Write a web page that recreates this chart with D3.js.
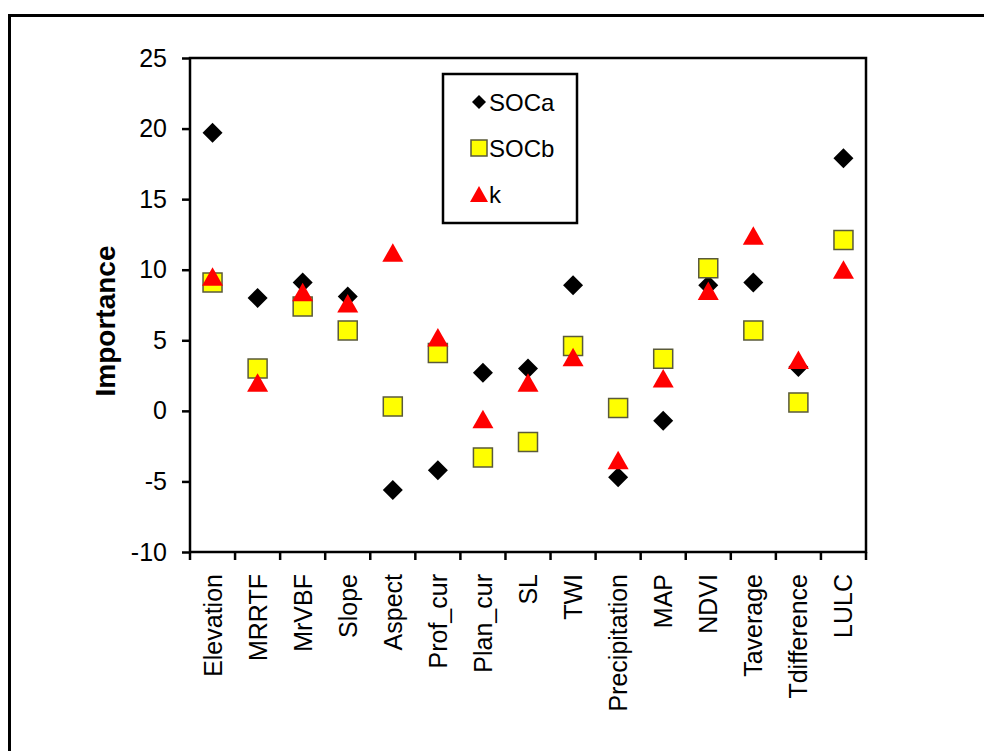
<!DOCTYPE html>
<html>
<head>
<meta charset="utf-8">
<script src="https://cdn.jsdelivr.net/npm/d3@7"></script>
<style>
  html, body { margin: 0; padding: 0; background: #fff; }
  svg { display: block; font-family: "Liberation Sans", Arial, sans-serif; }
</style>
</head>
<body>
<svg id="chart" width="984" height="751"></svg>
<script>
(function () {
  'use strict';

  /* ---------- Data ---------- */
  const categories = ['Elevation', 'MRRTF', 'MrVBF', 'Slope', 'Aspect', 'Prof_cur', 'Plan_cur',
    'SL', 'TWI', 'Precipitation', 'MAP', 'NDVI', 'Taverage', 'Tdifference', 'LULC'];
  const socA = [19.7, 8.0, 9.1, 8.1, -5.6, -4.2, 2.7, 3.0, 8.9, -4.7, -0.7, 8.9, 9.1, 3.1, 17.9];
  const socB = [9.1, 3.0, 7.4, 5.7, 0.3, 4.1, -3.3, -2.2, 4.6, 0.2, 3.7, 10.1, 5.7, 0.6, 12.1];
  const kVal = [9.5, 2.0, 8.4, 7.6, 11.2, 5.2, -0.6, 2.0, 3.8, -3.5, 2.3, 8.5, 12.4, 3.6, 10.0];
  const yTicks = [-10, -5, 0, 5, 10, 15, 20, 25];

  const series = [
    { name: 'SOCa', values: socA, shape: 'diamond' },
    { name: 'SOCb', values: socB, shape: 'square' },
    { name: 'k',    values: kVal, shape: 'triangle' }
  ];

  /* ---------- Layout ---------- */
  const svg = d3.select('#chart');
  const plot = { left: 190, right: 866, top: 58, bottom: 552 };

  const x = d3.scaleBand().domain(categories).range([plot.left, plot.right]).padding(0);
  const y = d3.scaleLinear().domain([-10, 25]).range([plot.bottom, plot.top]);

  // Outer frame
  svg.append('rect')
    .attr('x', 9.5).attr('y', 15.5)
    .attr('width', 1000).attr('height', 800)
    .attr('fill', 'none').attr('stroke', '#000').attr('stroke-width', 3);

  // Plot box
  svg.append('rect')
    .attr('x', plot.left).attr('y', plot.top)
    .attr('width', plot.right - plot.left).attr('height', plot.bottom - plot.top)
    .attr('fill', 'none').attr('stroke', '#000').attr('stroke-width', 2.5);

  /* ---------- Y axis ---------- */
  const yAxis = svg.append('g')
    .attr('transform', `translate(${plot.left},0)`)
    .call(d3.axisLeft(y).tickValues(yTicks).tickFormat(d => String(d)).tickSize(8).tickPadding(15))
    .call(g => g.select('.domain').remove());
  yAxis.selectAll('line').attr('stroke', '#000').attr('stroke-width', 2.5);
  yAxis.selectAll('text')
    .attr('font-family', '"Liberation Sans", Arial, sans-serif')
    .attr('font-size', 25).attr('fill', '#000');

  svg.append('text')
    .attr('transform', `translate(115,321) rotate(-90)`)
    .attr('text-anchor', 'middle')
    .attr('font-size', 28).attr('font-weight', 700)
    .text('Importance');

  /* ---------- X axis ---------- */
  const boundaries = categories.map(c => x(c)).concat([plot.right]);
  svg.append('g').selectAll('line')
    .data(boundaries)
    .join('line')
    .attr('x1', d => d).attr('x2', d => d)
    .attr('y1', plot.bottom).attr('y2', plot.bottom + 8)
    .attr('stroke', '#000').attr('stroke-width', 2.5);

  svg.append('g').selectAll('text')
    .data(categories)
    .join('text')
    .attr('transform', d => `translate(${x(d) + x.bandwidth() / 2 + 9},${plot.bottom + 22}) rotate(-90)`)
    .attr('text-anchor', 'end')
    .attr('font-size', 25)
    .text(d => d);

  /* ---------- Markers ---------- */
  const shapes = {
    diamond:  'M0,-10L10,0L0,10L-10,0Z',
    square:   'M-9.5,-9.5H9.5V9.5H-9.5Z',
    triangle: 'M0,-9.5L10.5,9L-10.5,9Z'
  };
  const style = {
    diamond:  { fill: '#000', stroke: 'none' },
    square:   { fill: '#ffff00', stroke: '#5a5a3a' },
    triangle: { fill: '#ff0000', stroke: 'none' }
  };

  series.forEach(s => {
    svg.append('g').selectAll('path')
      .data(s.values)
      .join('path')
      .attr('transform', (v, i) => `translate(${x(categories[i]) + x.bandwidth() / 2},${y(v)})`)
      .attr('d', shapes[s.shape])
      .attr('fill', style[s.shape].fill)
      .attr('stroke', style[s.shape].stroke)
      .attr('stroke-width', 1.5);
  });

  /* ---------- Legend ---------- */
  const legend = svg.append('g');
  legend.append('rect')
    .attr('x', 443).attr('y', 74).attr('width', 134).attr('height', 149)
    .attr('fill', '#fff').attr('stroke', '#000').attr('stroke-width', 2.5);

  const legendY = d3.scalePoint().domain(series.map(s => s.name)).range([102, 194]);
  const item = legend.selectAll('g.item')
    .data(series)
    .join('g')
    .attr('class', 'item')
    .attr('transform', d => `translate(479,${legendY(d.name)})`);
  item.append('path')
    .attr('d', d => d.shape === 'diamond' ? 'M0,-7L7,0L0,7L-7,0Z'
                  : d.shape === 'square' ? 'M-8,-8H8V8H-8Z'
                  : 'M0,-8L9,8L-9,8Z')
    .attr('fill', d => style[d.shape].fill)
    .attr('stroke', d => style[d.shape].stroke)
    .attr('stroke-width', 1.5);
  item.append('text')
    .attr('x', 10).attr('dy', '0.36em')
    .attr('font-size', 24)
    .text(d => d.name);
})();
</script>
</body>
</html>
